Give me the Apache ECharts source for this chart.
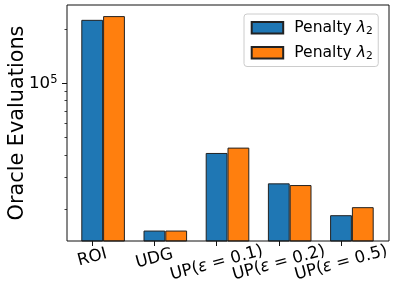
<!DOCTYPE html>
<html><head><meta charset="utf-8">
<script src="https://cdn.jsdelivr.net/npm/echarts@6/dist/echarts.min.js"></script>
<style>html,body{margin:0;padding:0;background:#fff}#c{width:396px;height:295px}</style>
</head><body><div id="c"></div>
<script>
// ---- data ----
const categories = ['ROI', 'UDG', 'UP(ε = 0.1)', 'UP(ε = 0.2)', 'UP(ε = 0.5)'];
const seriesNames = ['Penalty λ2 (blue)', 'Penalty λ2 (orange)'];
const blueValues = [225000, 15200, 41000, 27800, 18500];
const orangeValues = [236000, 15200, 43900, 27200, 20500];
const yMajorTicks = [100000];
const yMinorTicks = [20000, 30000, 40000, 50000, 60000, 70000, 80000, 90000, 200000];
const yMin = 13300, yMax = 272000;

const FONT = 'DejaVu Sans';
const TICK_FS = 16.67;
const ROT = 15;

// Rotated tick labels: emulate matplotlib (rotated bbox centred on the tick, top edge fixed)
const mctx = document.createElement('canvas').getContext('2d');
mctx.font = TICK_FS + 'px "' + FONT + '"';
function labelPadding(t) {
  const th = ROT * Math.PI / 180;
  const w = mctx.measureText(t).width;
  const L = TICK_FS;
  let p = Math.sin(th) * Math.cos(th) * (w / 2 - (L / 2) * Math.tan(th));
  if (t.indexOf('ε') >= 0) p -= 2.8; // mathtext bbox is tighter
  const s = 2 * (p + L / 2) * Math.tan(th);
  return [p, s, 0, 0];
}
const labelData = categories.map(c => ({
  value: c,
  textStyle: { align: 'center', verticalAlign: 'top', padding: labelPadding(c) }
}));

function richCat(v) {
  const i = v.indexOf('ε');
  if (i < 0) return '{n|' + v + '}';
  return '{n|' + v.slice(0, i) + '}{e|ε}{n|' + v.slice(i + 1) + '}';
}

const chart = echarts.init(document.getElementById('c'), null, { renderer: 'canvas' });
const gTop = 5, gBottom = 54;
const gridBase = { top: gTop, bottom: gBottom, containLabel: false, outerBoundsMode: 'none' };
chart.setOption({
  animation: false,
  backgroundColor: '#fff',
  textStyle: { fontFamily: FONT },
  grid: [
    Object.assign({ left: 67, right: 7, show: true, borderColor: '#111', borderWidth: 1, backgroundColor: 'transparent', z: 5 }, gridBase),
    Object.assign({ left: 72, right: 13 }, gridBase),
    Object.assign({ left: 61.1, right: 23.9 }, gridBase)
  ],
  xAxis: [
    { gridIndex: 0, type: 'category', data: categories, show: false },
    { gridIndex: 1, type: 'category', data: categories, show: false },
    {
      gridIndex: 2, type: 'category', data: labelData, boundaryGap: true,
      axisLine: { show: false },
      axisTick: { show: true, alignWithLabel: true, length: 5, lineStyle: { color: '#111', width: 1 } },
      axisLabel: {
        interval: 0, hideOverlap: false, rotate: ROT, align: 'center', verticalAlign: 'top', margin: 4.4,
        color: '#000', fontSize: TICK_FS, fontFamily: FONT,
        formatter: richCat,
        rich: {
          n: { fontSize: TICK_FS, fontFamily: FONT, color: '#000' },
          e: { fontSize: TICK_FS, fontFamily: FONT, fontStyle: 'italic', color: '#000' }
        }
      },
      splitLine: { show: false }
    }
  ],
  yAxis: [
    {
      gridIndex: 0, type: 'log', logBase: 10, min: yMin, max: yMax, position: 'left',
      axisLine: { show: false }, splitLine: { show: false },
      axisTick: { show: true, customValues: yMajorTicks, length: 5, lineStyle: { color: '#111', width: 1 } },
      axisLabel: {
        customValues: yMajorTicks, margin: 9.5, color: '#000',
        formatter: () => '{b|10}{s|5}',
        rich: {
          b: { fontSize: TICK_FS, fontFamily: FONT, color: '#000', lineHeight: 18 },
          s: { fontSize: 11.5, fontFamily: FONT, color: '#000', verticalAlign: 'top', lineHeight: 12 }
        }
      },
      name: 'Oracle Evaluations', nameLocation: 'middle', nameGap: 39, nameMoveOverlap: false,
      nameTextStyle: { fontSize: 20.8, color: '#000', fontFamily: FONT }
    },
    {
      gridIndex: 0, type: 'log', logBase: 10, min: yMin, max: yMax, position: 'left',
      axisLine: { show: false }, splitLine: { show: false }, axisLabel: { show: false },
      axisTick: { show: true, customValues: yMinorTicks, length: 2.5, lineStyle: { color: '#111', width: 0.8 } }
    },
    { gridIndex: 1, type: 'log', logBase: 10, min: yMin, max: yMax, show: false },
    { gridIndex: 2, type: 'value', show: false }
  ],
  legend: {
    orient: 'vertical', left: 244, top: 14,
    padding: [5.7, 5.5, 4.8, 6.7],
    itemWidth: 31.5, itemHeight: 11.6, itemGap: 8,
    icon: 'rect',
    backgroundColor: 'rgba(255,255,255,0.8)', borderColor: '#ccc', borderWidth: 1, borderRadius: 3,
    data: seriesNames,
    formatter: () => '{n|Penalty }{l|λ}{s|2}',
    textStyle: {
      fontSize: 15.6, color: '#000', fontFamily: FONT, padding: [0, 0, 0, 6],
      rich: {
        n: { fontSize: 15.6, fontFamily: FONT, color: '#000', lineHeight: 18 },
        l: { fontSize: 15.6, fontFamily: FONT, color: '#000', fontStyle: 'italic', lineHeight: 18 },
        s: { fontSize: 10.7, fontFamily: FONT, color: '#000', verticalAlign: 'bottom', lineHeight: 10.7 }
      }
    }
  },
  series: [
    { name: seriesNames[0], type: 'bar', xAxisIndex: 1, yAxisIndex: 2, data: blueValues, barWidth: 21.8, barGap: '0%', clip: true,
      itemStyle: { color: '#1f77b4', borderColor: '#222', borderWidth: 1 } },
    { name: seriesNames[1], type: 'bar', xAxisIndex: 1, yAxisIndex: 2, data: orangeValues, barWidth: 21.8, barGap: '0%', clip: true,
      itemStyle: { color: '#ff7f0e', borderColor: '#222', borderWidth: 1 } }
  ]
});
</script>
</body></html>
